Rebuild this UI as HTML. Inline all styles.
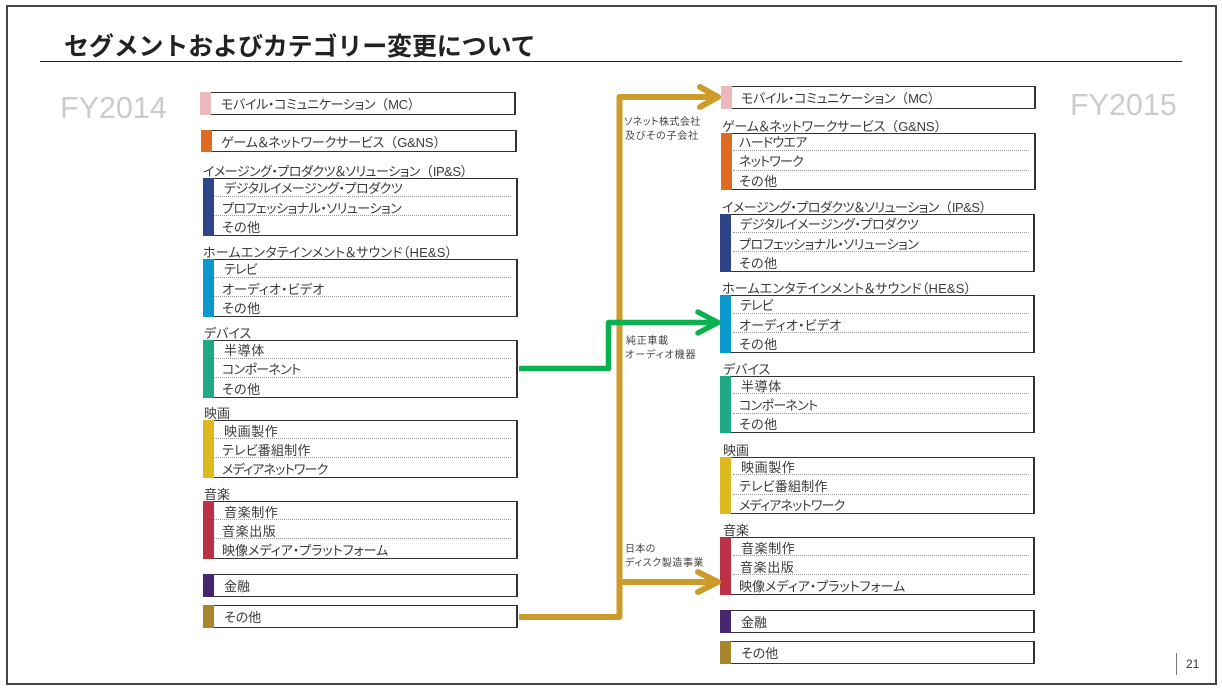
<!DOCTYPE html>
<html lang="ja"><head><meta charset="utf-8"><title>セグメントおよびカテゴリー変更について</title>
<style>
html,body{margin:0;padding:0;background:#fff}
#p{position:relative;width:1222px;height:691px;overflow:hidden;background:#fff;font-family:"Liberation Sans","Noto Sans CJK JP",sans-serif;color:#333}
#p div{position:absolute;box-sizing:border-box}
.f{left:6px;top:5px;width:1211px;height:680px;border:2px solid #444}
.t{white-space:nowrap;font-size:13px;line-height:18px;height:18px;margin-top:1px;font-feature-settings:"palt";color:#3a3a3a}
.t b{font-weight:normal;font-feature-settings:normal;letter-spacing:0}
.b{border:1px solid #333;border-right-width:2px;border-bottom-width:1.5px;background:#fff}
.bar{width:11px}
.d{border-top:1px dotted #999;height:1px}
.n{white-space:nowrap;font-size:10px;line-height:14px;height:14px;margin-top:2px;font-feature-settings:"palt";color:#444}
.fy{font-size:30.5px;line-height:34px;color:#ccc;white-space:nowrap}
.ls1{letter-spacing:-.33px}.ls2{letter-spacing:-.15px}.ls3{letter-spacing:-.5px}.ls4{letter-spacing:.2px}
.ls5{letter-spacing:-.47px}.ls6{letter-spacing:.4px}.ls7{letter-spacing:-.8px}.ls8{letter-spacing:.6px}.ls9{letter-spacing:-.7px}
</style></head><body><div id="p">
<div class="f"></div>
<div style="left:64px;top:29px;font-size:25px;line-height:36px;font-weight:bold;letter-spacing:-.15px;color:#222;white-space:nowrap">セグメントおよびカテゴリー変更について</div>
<div style="left:40px;top:61px;width:1142px;height:1px;background:#222"></div>
<div class="fy" style="left:60px;top:91px">FY2014</div>
<div class="fy" style="left:1070px;top:88px">FY2015</div>

<!-- left -->
<div class="b" style="left:200px;top:92px;width:316px;height:23px"></div><div class="bar" style="left:200px;top:92px;height:23px;background:#ecb8bb"></div>
<div class="t ls1" style="left:221px;top:95px">モバイル・コミュニケーション<b>（</b>MC<b>）</b></div>

<div class="b" style="left:201px;top:130px;width:316px;height:22px"></div><div class="bar" style="left:201px;top:130px;height:22px;background:#df6b22"></div>
<div class="t ls2" style="left:221px;top:133px">ゲーム＆ネットワークサービス<b>（</b>G&amp;NS<b>）</b></div>

<div class="t ls3" style="left:203px;top:162px">イメージング・プロダクツ＆ソリューション<b>（</b>IP&amp;S<b>）</b></div>
<div class="b" style="left:203px;top:178px;width:315px;height:58px"></div><div class="bar" style="left:203px;top:178px;height:58px;background:#2e4489"></div>
<div class="d" style="left:214px;top:196px;width:297px"></div><div class="d" style="left:214px;top:215px;width:297px"></div>
<div class="t ls3" style="left:224px;top:179px">デジタルイメージング・プロダクツ</div>
<div class="t ls5" style="left:222px;top:199px">プロフェッショナル・ソリューション</div>
<div class="t ls6" style="left:222px;top:218px">その他</div>

<div class="t ls4" style="left:203px;top:243px">ホームエンタテインメント＆サウンド（HE&amp;S）</div>
<div class="b" style="left:203px;top:259px;width:315px;height:58px"></div><div class="bar" style="left:203px;top:259px;height:58px;background:#0a98cf"></div>
<div class="d" style="left:214px;top:277px;width:297px"></div><div class="d" style="left:214px;top:296px;width:297px"></div>
<div class="t ls7" style="left:224px;top:260px">テレビ</div>
<div class="t ls4" style="left:222px;top:280px">オーディオ・ビデオ</div>
<div class="t ls6" style="left:222px;top:299px">その他</div>

<div class="t" style="left:204px;top:324px">デバイス</div>
<div class="b" style="left:203px;top:340px;width:315px;height:58px"></div><div class="bar" style="left:203px;top:340px;height:58px;background:#1fa884"></div>
<div class="d" style="left:214px;top:358px;width:297px"></div><div class="d" style="left:214px;top:377px;width:297px"></div>
<div class="t ls8" style="left:224px;top:341px">半導体</div>
<div class="t ls9" style="left:222px;top:360px">コンポーネント</div>
<div class="t ls6" style="left:222px;top:380px">その他</div>

<div class="t" style="left:204px;top:404px">映画</div>
<div class="b" style="left:203px;top:420px;width:315px;height:58px"></div><div class="bar" style="left:203px;top:420px;height:58px;background:#dfba1f"></div>
<div class="d" style="left:214px;top:438px;width:297px"></div><div class="d" style="left:214px;top:457px;width:297px"></div>
<div class="t ls8" style="left:224px;top:422px">映画製作</div>
<div class="t ls4" style="left:222px;top:441px">テレビ番組制作</div>
<div class="t ls7" style="left:222px;top:460px">メディアネットワーク</div>

<div class="t" style="left:204px;top:485px">音楽</div>
<div class="b" style="left:203px;top:501px;width:315px;height:58px"></div><div class="bar" style="left:203px;top:501px;height:58px;background:#bd3147"></div>
<div class="d" style="left:214px;top:519px;width:297px"></div><div class="d" style="left:214px;top:538px;width:297px"></div>
<div class="t ls8" style="left:224px;top:503px">音楽制作</div>
<div class="t ls8" style="left:222px;top:522px">音楽出版</div>
<div class="t" style="left:222px;top:541px">映像メディア・プラットフォーム</div>

<div class="b" style="left:203px;top:574px;width:315px;height:23px"></div><div class="bar" style="left:203px;top:574px;height:23px;background:#46266e"></div>
<div class="t" style="left:224px;top:577px">金融</div>
<div class="b" style="left:203px;top:605px;width:315px;height:23px"></div><div class="bar" style="left:203px;top:605px;height:23px;background:#a8862c"></div>
<div class="t" style="left:224px;top:608px">その他</div>

<!-- right -->
<div class="b" style="left:721px;top:86px;width:315px;height:23px"></div><div class="bar" style="left:721px;top:86px;height:23px;background:#ecb8bb"></div>
<div class="t ls1" style="left:741px;top:89px">モバイル・コミュニケーション<b>（</b>MC<b>）</b></div>

<div class="t ls2" style="left:722px;top:117px">ゲーム＆ネットワークサービス<b>（</b>G&amp;NS<b>）</b></div>
<div class="b" style="left:721px;top:133px;width:315px;height:57px"></div><div class="bar" style="left:721px;top:133px;height:57px;background:#df6b22"></div>
<div class="d" style="left:733px;top:150px;width:296px"></div><div class="d" style="left:733px;top:170px;width:296px"></div>
<div class="t ls9" style="left:739px;top:133px">ハードウエア</div>
<div class="t ls7" style="left:739px;top:152px">ネットワーク</div>
<div class="t ls6" style="left:739px;top:172px">その他</div>

<div class="t ls3" style="left:722px;top:198px">イメージング・プロダクツ＆ソリューション<b>（</b>IP&amp;S<b>）</b></div>
<div class="b" style="left:720px;top:214px;width:315px;height:58px"></div><div class="bar" style="left:720px;top:214px;height:58px;background:#2e4489"></div>
<div class="d" style="left:733px;top:232px;width:296px"></div><div class="d" style="left:733px;top:251px;width:296px"></div>
<div class="t ls3" style="left:740px;top:215px">デジタルイメージング・プロダクツ</div>
<div class="t ls5" style="left:739px;top:235px">プロフェッショナル・ソリューション</div>
<div class="t ls6" style="left:739px;top:254px">その他</div>

<div class="t ls4" style="left:722px;top:279px">ホームエンタテインメント＆サウンド（HE&amp;S）</div>
<div class="b" style="left:720px;top:295px;width:315px;height:58px"></div><div class="bar" style="left:720px;top:295px;height:58px;background:#0a98cf"></div>
<div class="d" style="left:733px;top:313px;width:296px"></div><div class="d" style="left:733px;top:332px;width:296px"></div>
<div class="t ls7" style="left:740px;top:296px">テレビ</div>
<div class="t ls4" style="left:739px;top:316px">オーディオ・ビデオ</div>
<div class="t ls6" style="left:739px;top:335px">その他</div>

<div class="t" style="left:723px;top:360px">デバイス</div>
<div class="b" style="left:720px;top:376px;width:315px;height:57px"></div><div class="bar" style="left:720px;top:376px;height:57px;background:#1fa884"></div>
<div class="d" style="left:733px;top:393px;width:296px"></div><div class="d" style="left:733px;top:413px;width:296px"></div>
<div class="t ls8" style="left:741px;top:377px">半導体</div>
<div class="t ls9" style="left:739px;top:396px">コンポーネント</div>
<div class="t ls6" style="left:739px;top:415px">その他</div>

<div class="t" style="left:723px;top:441px">映画</div>
<div class="b" style="left:720px;top:457px;width:315px;height:57px"></div><div class="bar" style="left:720px;top:457px;height:57px;background:#dfba1f"></div>
<div class="d" style="left:733px;top:474px;width:296px"></div><div class="d" style="left:733px;top:494px;width:296px"></div>
<div class="t ls8" style="left:741px;top:458px">映画製作</div>
<div class="t ls4" style="left:739px;top:477px">テレビ番組制作</div>
<div class="t ls7" style="left:739px;top:496px">メディアネットワーク</div>

<div class="t" style="left:723px;top:521px">音楽</div>
<div class="b" style="left:720px;top:537px;width:315px;height:58px"></div><div class="bar" style="left:720px;top:537px;height:58px;background:#bd3147"></div>
<div class="d" style="left:733px;top:555px;width:296px"></div><div class="d" style="left:733px;top:574px;width:296px"></div>
<div class="t ls8" style="left:741px;top:539px">音楽制作</div>
<div class="t ls8" style="left:740px;top:558px">音楽出版</div>
<div class="t" style="left:739px;top:577px">映像メディア・プラットフォーム</div>

<div class="b" style="left:720px;top:610px;width:315px;height:23px"></div><div class="bar" style="left:720px;top:610px;height:23px;background:#46266e"></div>
<div class="t" style="left:741px;top:613px">金融</div>
<div class="b" style="left:720px;top:641px;width:315px;height:23px"></div><div class="bar" style="left:720px;top:641px;height:23px;background:#a8862c"></div>
<div class="t" style="left:741px;top:644px">その他</div>

<!-- connectors -->
<svg style="position:absolute;left:0;top:0" width="1222" height="691" fill="none" stroke-linejoin="round" stroke-linecap="round">
<g stroke="#cd9b2a" stroke-width="6">
<path d="M519 617H619.5V97H716" stroke-linecap="butt"/>
<path d="M619.5 582H716" stroke-linecap="butt"/>
<path d="M700 87L718 97L700 107"/>
<path d="M698 572L718 582L698 592"/>
</g>
<g stroke="#0cb14f" stroke-width="5.5">
<path d="M519 368.5H608.5V322.5H716" stroke-linecap="butt"/>
<path d="M698 312L718 322.5L698 333"/>
</g>
</svg>

<div class="n" style="left:624px;top:114px;letter-spacing:.4px">ソネット株式会社</div>
<div class="n" style="left:625px;top:128px;letter-spacing:.8px">及びその子会社</div>
<div class="n" style="left:626px;top:333px;letter-spacing:.7px">純正車載</div>
<div class="n" style="left:625px;top:347px;letter-spacing:1px">オーディオ機器</div>
<div class="n" style="left:625px;top:541px;letter-spacing:.3px">日本の</div>
<div class="n" style="left:625px;top:555px;letter-spacing:.6px">ディスク製造事業</div>

<div style="left:1176px;top:653px;width:1px;height:22px;background:#777"></div>
<div style="left:1186px;top:656px;font-size:12px;line-height:16px;color:#333">21</div>
</div></body></html>
